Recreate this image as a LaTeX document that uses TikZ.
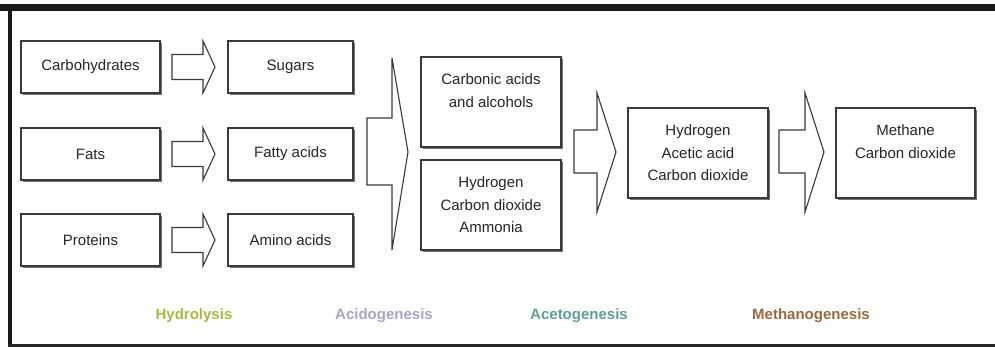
\documentclass[tikz,border=0pt]{standalone}
\usepackage{fontspec}
\setmainfont{Liberation Sans}
\usetikzlibrary{shadows}

\definecolor{hydrocol}{HTML}{A9B944}
\definecolor{acidocol}{HTML}{ABA2C4}
\definecolor{acetocol}{HTML}{5E9E9C}
\definecolor{methacol}{HTML}{9A6A3E}
\definecolor{boxline}{HTML}{3A3A3A}

\tikzset{
  stage/.style={draw=boxline, line width=1.2pt, fill=white, align=center,
    text=black!85, font=\fontsize{15}{22.5}\selectfont,
    drop shadow={shadow xshift=2.2pt, shadow yshift=-2.2pt, fill=black!55, opacity=1}},
  smallbox/.style={stage, minimum height=52pt},
  bigbox/.style={stage, minimum width=140pt, minimum height=90pt},
  fatarrow/.style={draw=boxline, line width=1.1pt, fill=white, line join=miter},
  phase/.style={font=\fontsize{15}{17}\selectfont\bfseries}
}

\begin{document}
\begin{tikzpicture}[x=1pt,y=-1pt]
\useasboundingbox (0,0) rectangle (995,347);

% frame
\fill [black!90] (0,4) rectangle (995,11);
\fill [black!90] (8,4) rectangle (12,347);
\fill [black!85] (8,344) rectangle (995,347);

% hydrolysis
\node [smallbox, minimum width=139pt] (carb) at (90.5,67) {Carbohydrates};
\node [smallbox, minimum width=139pt] (fats) at (90.5,154) {Fats};
\node [smallbox, minimum width=139pt] (prot) at (90.5,240) {Proteins};

\node [smallbox, minimum width=125pt] (sug) at (290.5,67) {Sugars};
\node [smallbox, minimum width=125pt] (fatty) at (290.5,154) {Fatty acids};
\node [smallbox, minimum width=125pt] (amino) at (290.5,240) {Amino acids};

\foreach \yy in {67,154,240}
  \draw [fatarrow] (172,\yy-12.5)--(203,\yy-12.5)--(203,\yy-26)--(215,\yy)
    --(203,\yy+26)--(203,\yy+12.5)--(172,\yy+12.5)--cycle;

% acidogenesis
\draw [fatarrow] (367,118)--(392,118)--(392,58)--(408,152)
  --(392,250)--(392,185)--(367,185)--cycle;

\node [bigbox] (carbonic) at (491,102) {Carbonic acids\\and alcohols\\\mbox{}};
\node [bigbox] (ammonia) at (491,205) {Hydrogen\\Carbon dioxide\\Ammonia};

% acetogenesis
\draw [fatarrow] (574,130)--(597,130)--(597,93)--(616,152)
  --(597,212)--(597,173)--(574,173)--cycle;

\node [bigbox] (acetic) at (698,153) {Hydrogen\\Acetic acid\\Carbon dioxide};

% methanogenesis
\draw [fatarrow] (779,130)--(805,130)--(805,93)--(824,152)
  --(805,212)--(805,173)--(779,173)--cycle;

\node [bigbox, minimum width=139pt] (methane) at (905.5,153) {Methane\\Carbon dioxide\\\mbox{}};

% phase names
\node [phase, text=hydrocol] (hydro) at (194,316) {Hydrolysis};
\node [phase, text=acidocol] (acido) at (384,316) {Acidogenesis};
\node [phase, text=acetocol] (aceto) at (579,316) {Acetogenesis};
\node [phase, text=methacol] (metha) at (811,316) {Methanogenesis};

\end{tikzpicture}
\end{document}
